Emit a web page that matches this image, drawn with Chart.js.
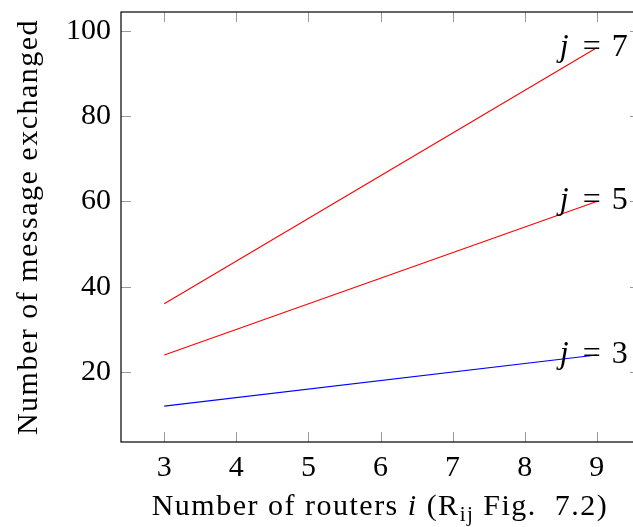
<!DOCTYPE html>
<html>
<head>
<meta charset="utf-8">
<script src="https://cdn.jsdelivr.net/npm/chart.js@4/dist/chart.umd.min.js"></script>
<style>
  html, body { margin: 0; padding: 0; background: #fff; overflow: hidden; }
  #wrap { width: 633px; height: 527px; overflow: hidden; }
  #box { width: 645px; height: 527px; }
</style>
</head>
<body>
<div id="wrap"><div id="box"><canvas id="msgChart"></canvas></div></div>
<script>
// routers i
const routers = [3, 9];
// messages exchanged per j
const msgJ7 = [36, 96];
const msgJ5 = [24, 60];
const msgJ3 = [12, 24];
const seriesNames = ['7', '5', '3'];
const seriesColors = ['#ff0000', '#ff0000', '#0000ff'];
const xTicks = [3, 4, 5, 6, 7, 8, 9];
const yTicks = [20, 40, 60, 80, 100];

const FONT = '"Liberation Serif", "DejaVu Serif", serif';

const toPoints = (ys) => routers.map((x, k) => ({ x: x, y: ys[k] }));

const data = {
  datasets: [msgJ7, msgJ5, msgJ3].map((ys, k) => ({
    label: 'j = ' + seriesNames[k],
    data: toPoints(ys),
    borderColor: seriesColors[k],
    borderWidth: 1.1,
    pointRadius: 0,
    fill: false,
  }))
};

// draw a run of [text, style] pieces starting at x
const drawRun = (ctx, parts, x, y, size) => {
  parts.forEach(p => {
    const sz = p[1] === 'sub' ? size * 0.7 : size;
    ctx.font = (p[1] === 'it' ? 'italic ' : '') + sz + 'px ' + FONT;
    ctx.fillText(p[0], x, p[1] === 'sub' ? y + size * 0.2 : y);
    x += ctx.measureText(p[0]).width;
  });
  return x;
};
const runWidth = (ctx, parts, size) => {
  let w = 0;
  parts.forEach(p => {
    const sz = p[1] === 'sub' ? size * 0.7 : size;
    ctx.font = (p[1] === 'it' ? 'italic ' : '') + sz + 'px ' + FONT;
    w += ctx.measureText(p[0]).width;
  });
  return w;
};

// frame + inward ticks on all four sides, like pgfplots
const frameTicks = {
  id: 'frameTicks',
  afterDraw(chart) {
    const ctx = chart.ctx;
    const a = chart.chartArea;
    const xs = chart.scales.x, ys = chart.scales.y;
    ctx.save();
    ctx.strokeStyle = '#9a9a9a';
    ctx.lineWidth = 1;
    ctx.beginPath();
    xTicks.forEach(v => {
      const px = Math.round(xs.getPixelForValue(v)) + 0.5;
      ctx.moveTo(px, a.bottom); ctx.lineTo(px, a.bottom - 10);
      ctx.moveTo(px, a.top); ctx.lineTo(px, a.top + 10);
    });
    yTicks.forEach(v => {
      const py = Math.round(ys.getPixelForValue(v)) + 0.5;
      ctx.moveTo(a.left, py); ctx.lineTo(a.left + 10, py);
      ctx.moveTo(a.right, py); ctx.lineTo(a.right - 10, py);
    });
    ctx.stroke();
    ctx.strokeStyle = '#000';
    ctx.lineWidth = 1.2;
    ctx.strokeRect(a.left, a.top, a.right - a.left, a.bottom - a.top);
    ctx.restore();
  }
};

// "j = n" labels at line ends, axis titles with italic / subscript parts
const textBits = {
  id: 'textBits',
  afterDraw(chart) {
    const ctx = chart.ctx;
    const a = chart.chartArea;
    ctx.save();
    ctx.fillStyle = '#000';
    ctx.textBaseline = 'alphabetic';
    ctx.textAlign = 'left';
    chart.data.datasets.forEach((ds, k) => {
      const last = ds.data[ds.data.length - 1];
      const px = chart.scales.x.getPixelForValue(last.x);
      const py = chart.scales.y.getPixelForValue(last.y) + 8;
      ctx.font = 'italic 32px ' + FONT;
      ctx.fillText('j', px - 37, py);
      ctx.font = '32px ' + FONT;
      ctx.fillText('=', px - 14, py);
      ctx.fillText(seriesNames[k], px + 15, py);
    });

    ctx.letterSpacing = '1.5px';
    const xt = [['Number of routers ', ''], ['i', 'it'], [' (R', ''], ['ij', 'sub'], [' Fig.  7.2)', '']];
    const wx = runWidth(ctx, xt, 30);
    drawRun(ctx, xt, 380 - wx / 2, 515, 30);

    const yt = [['Number of message exchanged', '']];
    const wy = runWidth(ctx, yt, 30);
    ctx.translate(37, (a.top + a.bottom) / 2);
    ctx.rotate(-Math.PI / 2);
    drawRun(ctx, yt, -wy / 2, 0, 30);
    ctx.restore();
  }
};

new Chart(document.getElementById('msgChart'), {
  type: 'line',
  data: data,
  plugins: [frameTicks, textBits],
  options: {
    responsive: true,
    maintainAspectRatio: false,
    animation: false,
    layout: { padding: { top: 12, right: 5, left: 0, bottom: 0 } },
    plugins: { legend: { display: false }, tooltip: { enabled: false } },
    scales: {
      x: {
        type: 'linear',
        min: 2.4, max: 9.6,
        afterBuildTicks: (s) => { s.ticks = xTicks.map(v => ({ value: v })); },
        afterFit: (s) => { s.height = 85; s.paddingLeft = 0; s.paddingRight = 0; },
        grid: { display: false, drawTicks: false },
        border: { display: false },
        ticks: { color: '#000', font: { family: FONT, size: 30 }, padding: 8, maxRotation: 0 },
        title: { display: false }
      },
      y: {
        min: 3.6, max: 104.4,
        afterBuildTicks: (s) => { s.ticks = yTicks.map(v => ({ value: v })); },
        afterFit: (s) => { s.width = 121; s.paddingTop = 0; s.paddingBottom = 0; },
        grid: { display: false, drawTicks: false },
        border: { display: false },
        ticks: { color: '#000', font: { family: FONT, size: 30 }, padding: 10 },
        title: { display: false }
      }
    }
  }
});
</script>
</body>
</html>
